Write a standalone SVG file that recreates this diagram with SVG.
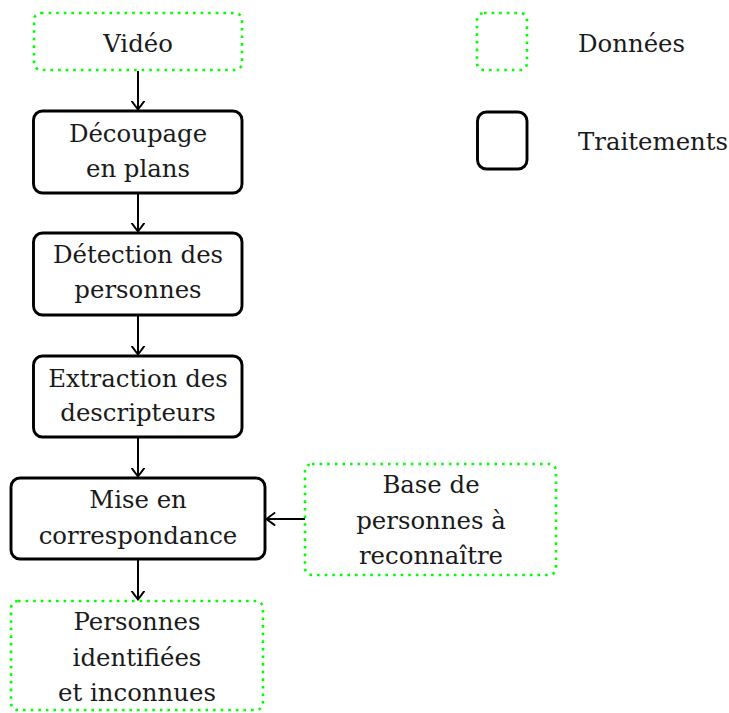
<svg xmlns="http://www.w3.org/2000/svg" width="729" height="713" viewBox="0 0 729 713">
<defs>
<style>
.data{fill:none;stroke:#00ff00;stroke-width:2.6;stroke-dasharray:2.6 5;}
.proc{fill:none;stroke:#000;stroke-width:2.9;}
.t{font-family:'DejaVu Serif',serif;font-size:24.4px;fill:#1a1a1a;text-anchor:middle;}
.tl{font-family:'DejaVu Serif',serif;font-size:24.4px;fill:#1a1a1a;}
.c{stroke:#000;stroke-width:2;fill:none;marker-end:url(#arr);}
</style>
<marker id="arr" markerUnits="userSpaceOnUse" viewBox="-9 -8 11 16" refX="0" refY="0" markerWidth="11" markerHeight="16" orient="auto">
<path d="M-8,-6 Q-2.5,-2 0,0 Q-2.5,2 -8,6" fill="none" stroke="#000" stroke-width="2" stroke-linecap="round"/>
</marker>
</defs>
<rect width="729" height="713" fill="#fff"/>
<g id="connectors">
<line class="c" x1="138" y1="71" x2="138" y2="109.5"/>
<line class="c" x1="138" y1="194" x2="138" y2="231.5"/>
<line class="c" x1="138" y1="316" x2="138" y2="354.5"/>
<line class="c" x1="138" y1="438" x2="138" y2="476.5"/>
<line class="c" x1="138" y1="560" x2="138" y2="599.5"/>
<line class="c" x1="305" y1="519" x2="266.5" y2="519"/>
</g>
<g id="video">
<rect class="data" x="34" y="13" width="208" height="57" rx="7"/>
<text class="t" x="138" y="52">Vidéo</text>
</g>
<g id="decoupage">
<rect class="proc" x="33.5" y="111" width="208.5" height="82" rx="9"/>
<text class="t" x="138" y="142">Découpage</text>
<text class="t" x="138" y="177">en plans</text>
</g>
<g id="detection">
<rect class="proc" x="33.5" y="233" width="208.5" height="82" rx="9"/>
<text class="t" x="138" y="263">Détection des</text>
<text class="t" x="138" y="298">personnes</text>
</g>
<g id="extraction">
<rect class="proc" x="33.5" y="356" width="208.5" height="81" rx="9"/>
<text class="t" x="138" y="387">Extraction des</text>
<text class="t" x="138" y="421">descripteurs</text>
</g>
<g id="mise">
<rect class="proc" x="11" y="478" width="254" height="81" rx="9"/>
<text class="t" x="138" y="508">Mise en</text>
<text class="t" x="138" y="544">correspondance</text>
</g>
<g id="base">
<rect class="data" x="305" y="464" width="251" height="111" rx="7"/>
<text class="t" x="431" y="493">Base de</text>
<text class="t" x="431" y="529">personnes à</text>
<text class="t" x="431" y="564">reconnaître</text>
</g>
<g id="personnes">
<rect class="data" x="11" y="601" width="252" height="109" rx="7"/>
<text class="t" x="137" y="630">Personnes</text>
<text class="t" x="137" y="666">identifiées</text>
<text class="t" x="137" y="701">et inconnues</text>
</g>
<g id="legend-donnees">
<rect class="data" x="477" y="13" width="50" height="57" rx="7"/>
<text class="tl" x="578" y="52">Données</text>
</g>
<g id="legend-traitements">
<rect class="proc" x="477.5" y="112" width="49.5" height="57" rx="9"/>
<text class="tl" x="578" y="150">Traitements</text>
</g>
</svg>
